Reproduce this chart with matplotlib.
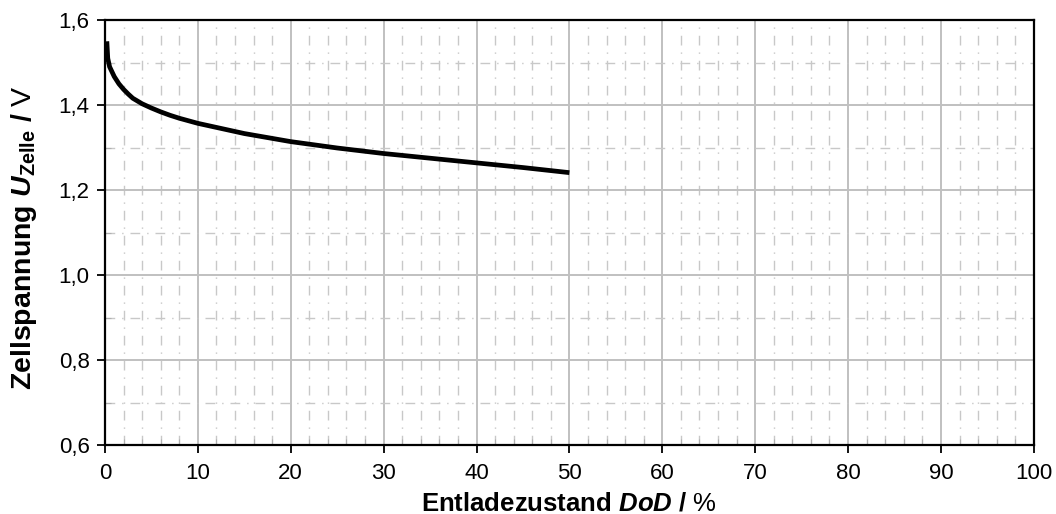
import numpy as np
import matplotlib
matplotlib.use("Agg")
import matplotlib.pyplot as plt
from matplotlib.ticker import MultipleLocator, FuncFormatter

# discharge curve
dod = [0.2, 0.3, 0.5, 1, 1.5, 2, 2.5, 3, 4, 5, 6, 7, 8, 10, 15, 20, 25, 30, 35, 40, 45, 50]
u_zelle = [1.55, 1.51, 1.49, 1.467, 1.45, 1.437, 1.426, 1.416, 1.403, 1.393, 1.384,
           1.376, 1.369, 1.357, 1.333, 1.314, 1.299, 1.286, 1.275, 1.264, 1.253, 1.241]

plt.rcParams['font.family'] = ['Liberation Sans', 'DejaVu Sans']
plt.rcParams['mathtext.fontset'] = 'custom'
plt.rcParams['mathtext.rm'] = 'Liberation Sans'
plt.rcParams['mathtext.bf'] = 'Liberation Sans:bold'
plt.rcParams['mathtext.it'] = 'Liberation Sans:italic'
plt.rcParams['mathtext.bfit'] = 'Liberation Sans:italic:bold'

fig = plt.figure(figsize=(10.56, 5.14), dpi=100)
ax = fig.add_axes([0.0994, 0.134, 0.8796, 0.827])

ax.plot(dod, u_zelle, color='black', lw=3.4, solid_capstyle='butt',
        solid_joinstyle='round', zorder=3)

ax.set_xlim(0, 100)
ax.set_ylim(0.6, 1.6)
ax.xaxis.set_major_locator(MultipleLocator(10))
ax.xaxis.set_minor_locator(MultipleLocator(2))
ax.yaxis.set_major_locator(MultipleLocator(0.2))
ax.yaxis.set_minor_locator(MultipleLocator(0.1))
ax.yaxis.set_major_formatter(FuncFormatter(lambda v, p: f"{v:.1f}".replace('.', ',')))

ax.grid(which='major', color='#c0c0c0', lw=1.4, ls='-')
ax.grid(which='minor', color='#c8c8c8', lw=1.0, ls=(0, (7, 5, 1, 5)))
ax.set_axisbelow(True)

ax.tick_params(which='major', direction='out', length=6, width=1.3, labelsize=16,
               colors='black', pad=5)
ax.tick_params(axis='x', which='major', pad=7)
ax.tick_params(which='minor', direction='in', length=4, width=0.8, color='#b0b0b0')
for s in ax.spines.values():
    s.set_linewidth(1.6)
    s.set_color('black')

ax.set_xlabel(r"$\mathbf{Entladezustand}\ \mathbfit{DoD}\ \mathbf{/}\ \mathrm{\%}$", fontsize=18.5, labelpad=5)
fig.text(24 / 1056, 1 - 238 / 514,
         r"$\mathbf{Zellspannung}\ \mathbfit{U}_{\mathbf{Zelle}}\ \mathbf{/}\ \mathrm{V}$",
         fontsize=20.5, rotation=90, ha='center', va='center')

fig.savefig("out.png", dpi=100)
